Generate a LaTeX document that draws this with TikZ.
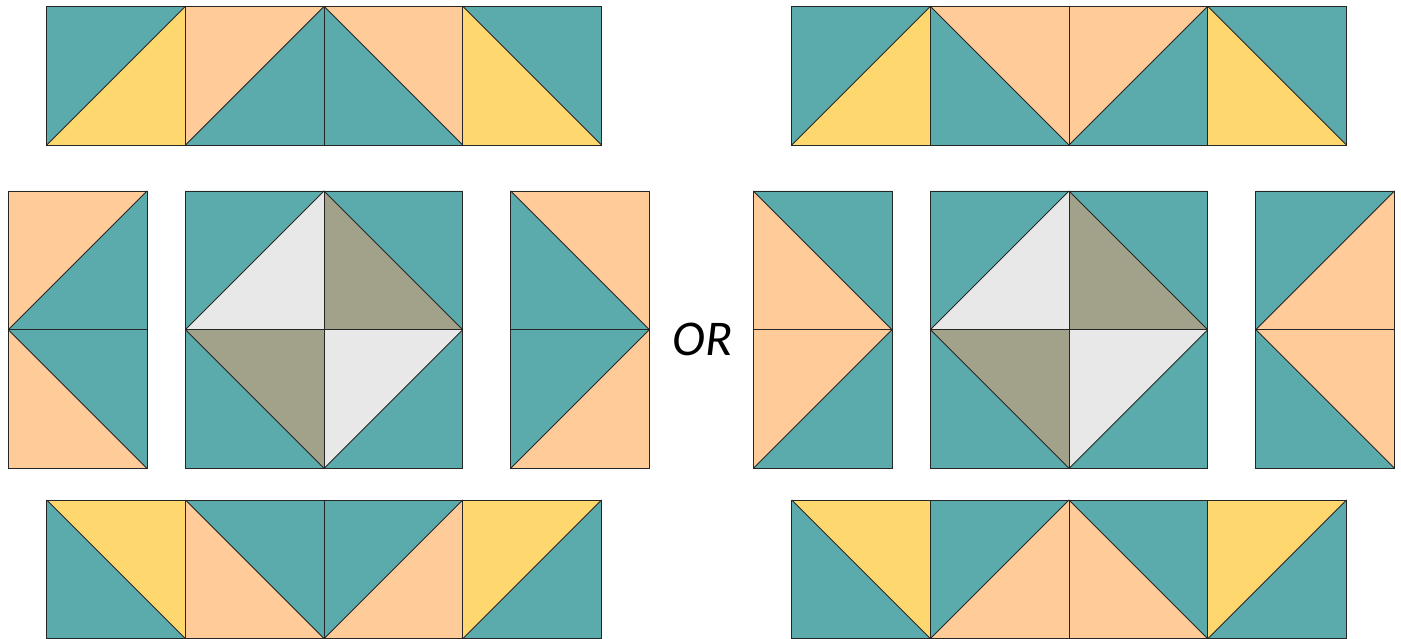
\documentclass[tikz,border=0pt]{standalone}
\usepackage{fontspec}
\newfontfamily\orfont{Carlito}
\definecolor{qteal}{RGB}{92,171,172}
\definecolor{qpeach}{RGB}{254,203,153}
\definecolor{qyel}{RGB}{254,216,111}
\definecolor{qlg}{RGB}{232,232,232}
\definecolor{qolive}{RGB}{162,161,138}
\def\qs{138.7}
% diagonal from bottom-left to top-right: #3 upper-left, #4 lower-right
\newcommand\qA[4]{%
  \fill[#3] (#1,#2) -- (#1+\qs,#2) -- (#1,#2+\qs) -- cycle;
  \fill[#4] (#1+\qs,#2) -- (#1+\qs,#2+\qs) -- (#1,#2+\qs) -- cycle;
  \draw[qedge] (#1,#2) rectangle (#1+\qs,#2+\qs);
  \draw[qedge] (#1,#2+\qs) -- (#1+\qs,#2);
}
% diagonal from top-left to bottom-right: #3 lower-left, #4 upper-right
\newcommand\qB[4]{%
  \fill[#3] (#1,#2) -- (#1+\qs,#2+\qs) -- (#1,#2+\qs) -- cycle;
  \fill[#4] (#1,#2) -- (#1+\qs,#2) -- (#1+\qs,#2+\qs) -- cycle;
  \draw[qedge] (#1,#2) rectangle (#1+\qs,#2+\qs);
  \draw[qedge] (#1,#2) -- (#1+\qs,#2+\qs);
}
\begin{document}
\begin{tikzpicture}[x=1pt,y=-1pt,
  qedge/.style={draw=black!85,line width=0.9pt,line join=miter}]
\useasboundingbox (0,0) rectangle (1401,639);
\fill[white] (0,0) rectangle (1401,639);
% ---------- left group ----------
\qA{46.7}{6.3}{qteal}{qyel}
\qA{185.4}{6.3}{qpeach}{qteal}
\qB{324.1}{6.3}{qteal}{qpeach}
\qB{462.8}{6.3}{qyel}{qteal}
\qA{8.3}{191}{qpeach}{qteal}
\qB{8.3}{329.7}{qpeach}{qteal}
\qA{185.4}{191}{qteal}{qlg}
\qB{324.1}{191}{qolive}{qteal}
\qB{185.4}{329.7}{qteal}{qolive}
\qA{324.1}{329.7}{qlg}{qteal}
\qB{510.7}{191}{qteal}{qpeach}
\qA{510.7}{329.7}{qteal}{qpeach}
\qB{46.7}{500}{qteal}{qyel}
\qB{185.4}{500}{qpeach}{qteal}
\qA{324.1}{500}{qteal}{qpeach}
\qA{462.8}{500}{qyel}{qteal}
% ---------- right group ----------
\qA{791.7}{6.3}{qteal}{qyel}
\qB{930.4}{6.3}{qteal}{qpeach}
\qA{1069.1}{6.3}{qpeach}{qteal}
\qB{1207.8}{6.3}{qyel}{qteal}
\qB{753.3}{191}{qpeach}{qteal}
\qA{753.3}{329.7}{qpeach}{qteal}
\qA{930.4}{191}{qteal}{qlg}
\qB{1069.1}{191}{qolive}{qteal}
\qB{930.4}{329.7}{qteal}{qolive}
\qA{1069.1}{329.7}{qlg}{qteal}
\qA{1255.9}{191}{qteal}{qpeach}
\qB{1255.9}{329.7}{qteal}{qpeach}
\qB{791.7}{500}{qteal}{qyel}
\qA{930.4}{500}{qteal}{qpeach}
\qB{1069.1}{500}{qpeach}{qteal}
\qA{1207.8}{500}{qyel}{qteal}
% ---------- OR ----------
\node[inner sep=0pt,font={\orfont\itshape\fontsize{50}{60}\selectfont}] (ortext) at (702.7,339.5) {OR};
\end{tikzpicture}
\end{document}
